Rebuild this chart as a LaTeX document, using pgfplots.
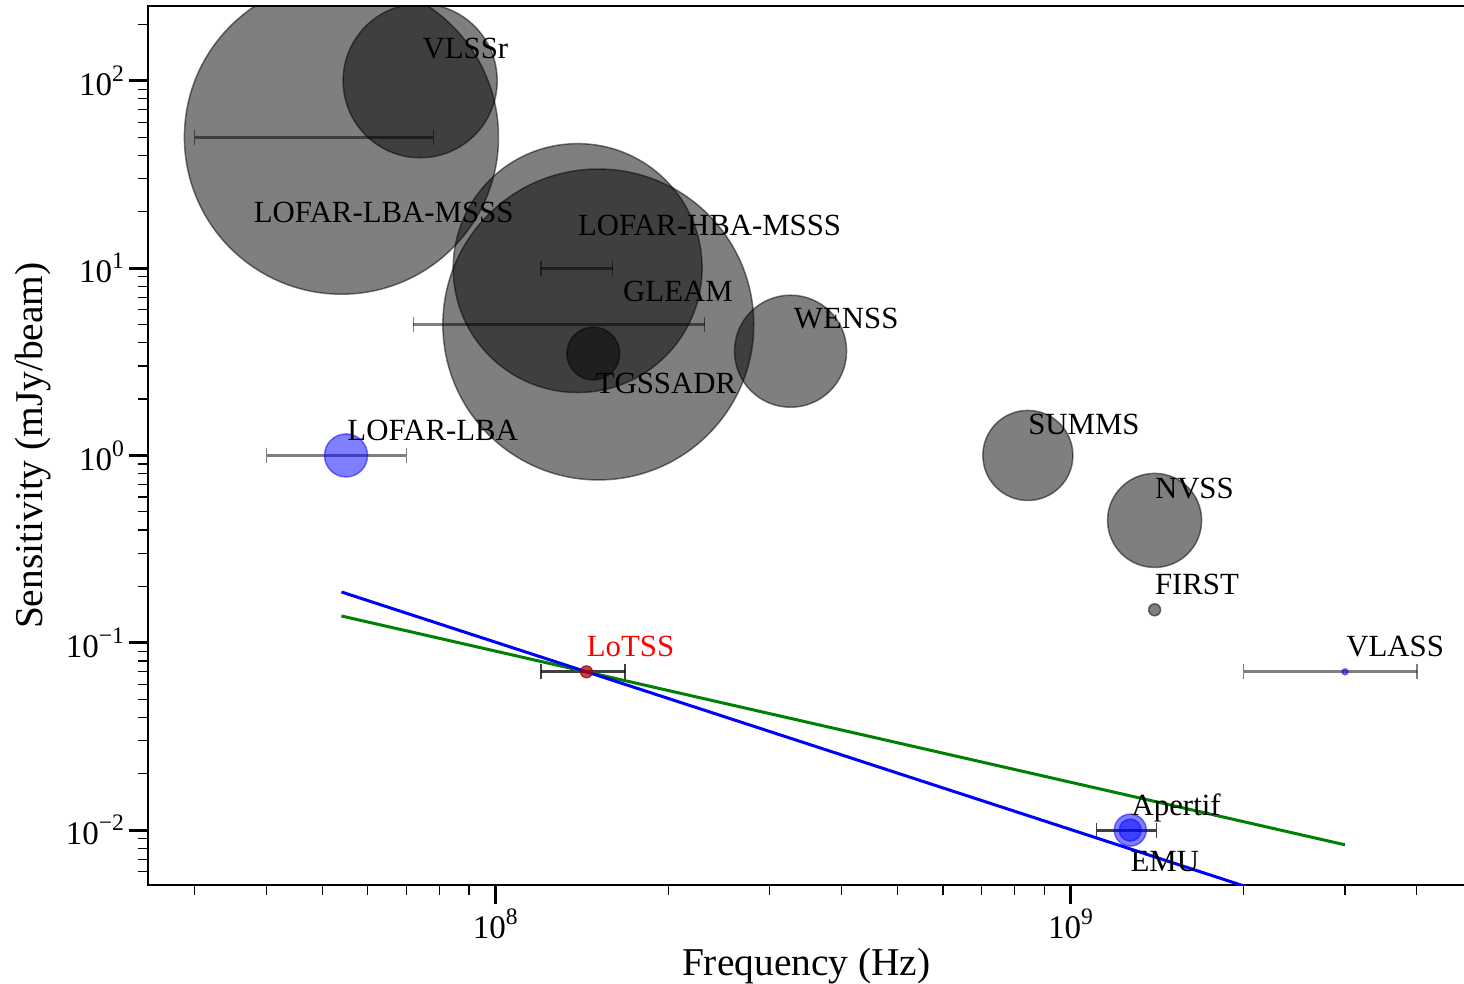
\documentclass[border=0pt]{standalone}
\usepackage{fontspec}
\setmainfont{Liberation Serif}
\usepackage{pgfplots}
\pgfplotsset{compat=1.18}

\definecolor{mplgreen}{RGB}{0,128,0}
\tikzset{lbl/.style={anchor=base west, inner sep=0pt, font=\fontsize{15.4}{17}\selectfont}}
% power-of-ten tick label with a raised exponent
\newcommand\pten[1]{10\raisebox{0.42em}{\fontsize{11.8}{12}\selectfont #1}}

\begin{document}
\begin{tikzpicture}
\begin{axis}[
  at={(0,0)}, anchor=south west,
  scale only axis, width=658pt, height=439.5pt,
  xmode=log, ymode=log,
  xmin=2.49e7, xmax=4.84e9, ymin=5.08e-3, ymax=250.6,
  axis line style={line width=0.75pt},
  tick align=outside, xtick pos=bottom, ytick pos=left,
  xtick={1e8,1e9},
  xticklabels={\pten{8},\pten{9}},
  minor xtick={3e7,4e7,5e7,6e7,7e7,8e7,9e7,2e8,3e8,4e8,5e8,6e8,7e8,8e8,9e8,2e9,3e9,4e9},
  ytick={1e-2,1e-1,1,10,100},
  yticklabels={\pten{−2},\pten{−1},\pten{0},\pten{1},\pten{2}},
  minor ytick={6e-3,7e-3,8e-3,9e-3,2e-2,3e-2,4e-2,5e-2,6e-2,7e-2,8e-2,9e-2,
               2e-1,3e-1,4e-1,5e-1,6e-1,7e-1,8e-1,9e-1,2,3,4,5,6,7,8,9,
               20,30,40,50,60,70,80,90,200},
  major tick length=9.5pt, minor tick length=5pt,
  every major tick/.append style={line width=1.5pt, black},
  every minor tick/.append style={line width=0.6pt, black},
  tick label style={font=\fontsize{16.5}{18}\selectfont},
  yticklabel style={xshift=1pt},
  xticklabel style={yshift=1pt},
  xlabel={Frequency (Hz)},
  ylabel={Sensitivity (mJy/beam)},
  label style={font=\fontsize{19.7}{22}\selectfont},
  xlabel style={at={(axis description cs:0.5,0)}, anchor=base, yshift=-45pt},
  ylabel style={at={(axis description cs:-0.0874,0.5)}, anchor=center},
  clip marker paths=true,
  bubble/.style={only marks, mark=*, mark options={fill=black, draw=black, opacity=0.5, line width=0.75pt}},
  bluebubble/.style={only marks, mark=*, mark options={fill=blue, draw=blue, opacity=0.5, line width=0.75pt}},
  bar/.style={black, opacity=0.5, line width=1.5pt, mark=|, mark size=3.75pt, mark options={line width=0.7pt}},
]

% survey sensitivities, marker size scales with beam size
\addplot[bubble, mark size=78.5pt] coordinates {(5.4e7,50)};    % LOFAR-LBA-MSSS
\addplot[bubble, mark size=38.5pt] coordinates {(7.4e7,100)};   % VLSSr
\addplot[bubble, mark size=62.2pt] coordinates {(1.39e8,10)};   % LOFAR-HBA-MSSS
\addplot[bubble, mark size=77.7pt] coordinates {(1.51e8,5)};    % GLEAM
\addplot[bubble, mark size=13.2pt] coordinates {(1.48e8,3.5)};  % TGSSADR
\addplot[bubble, mark size=28pt]   coordinates {(3.26e8,3.6)};  % WENSS
\addplot[bubble, mark size=22.5pt] coordinates {(8.43e8,1)};    % SUMMS
\addplot[bubble, mark size=23.5pt] coordinates {(1.4e9,0.45)};  % NVSS
\addplot[bubble, mark size=3pt]    coordinates {(1.4e9,0.15)};  % FIRST

% bandwidths
\addplot[bar] coordinates {(3.0e7,50) (7.8e7,50)};
\addplot[bar] coordinates {(1.2e8,10) (1.6e8,10)};
\addplot[bar] coordinates {(7.2e7,5) (2.31e8,5)};
\addplot[bar] coordinates {(4.0e7,1) (7.0e7,1)};
\addplot[bar] coordinates {(2.0e9,0.07) (4.0e9,0.07)};
\addplot[bar, opacity=0.75] coordinates {(1.2e8,0.07) (1.68e8,0.07)};
\addplot[bar, opacity=0.75] coordinates {(1.11e9,0.01) (1.41e9,0.01)};

% spectral scaling from LoTSS: alpha = -0.7 and alpha = -1
\addplot[mplgreen, line width=1.5pt] coordinates {(5.4e7,0.139) (3.0e9,0.00835)};
\addplot[blue, line width=1.5pt] coordinates {(5.4e7,0.1867) (3.0e9,0.00336)};

% upcoming surveys
\addplot[bluebubble, mark size=10.75pt] coordinates {(5.5e7,1)};   % LOFAR-LBA
\addplot[bluebubble, mark size=8pt]     coordinates {(1.27e9,0.01)}; % Apertif
\addplot[bluebubble, mark size=5.5pt]   coordinates {(1.27e9,0.01)}; % EMU
\addplot[bluebubble, mark size=1.5pt]   coordinates {(3.0e9,0.07)};  % VLASS
\addplot[only marks, mark=*, mark size=3pt, mark options={fill=red!70!black, draw=red!60!black, opacity=0.75, line width=0.6pt}]
  coordinates {(1.44e8,0.07)};                                     % LoTSS

% survey names
\node[lbl, xshift=1pt, yshift=11pt]       at (axis cs:7.4e7,100)   {VLSSr};
\node[lbl, xshift=-44pt, yshift=-42.5pt]  at (axis cs:5.4e7,50)    {LOFAR-LBA-MSSS};
\node[lbl, yshift=16.5pt]                 at (axis cs:1.39e8,10)   {LOFAR-HBA-MSSS};
\node[lbl, xshift=12.25pt, yshift=11.25pt] at (axis cs:1.51e8,5)   {GLEAM};
\node[lbl, xshift=1.5pt, yshift=11.5pt]   at (axis cs:3.26e8,3.6)  {WENSS};
\node[lbl, xshift=1pt, yshift=-20pt]      at (axis cs:1.48e8,3.5)  {TGSSADR};
\node[lbl, xshift=0.5pt, yshift=7.5pt]    at (axis cs:5.5e7,1)     {LOFAR-LBA};
\node[lbl, yshift=10.5pt]                 at (axis cs:8.43e8,1)    {SUMMS};
\node[lbl, yshift=11pt]                   at (axis cs:1.4e9,0.45)  {NVSS};
\node[lbl, yshift=7.5pt]                  at (axis cs:1.4e9,0.15)  {FIRST};
\node[lbl, xshift=0.5pt, yshift=7.5pt]    at (axis cs:3.0e9,0.07)  {VLASS};
\node[lbl, yshift=7.5pt, text=red]        at (axis cs:1.44e8,0.07) {LoTSS};
\node[lbl, xshift=0.5pt, yshift=7.5pt]    at (axis cs:1.27e9,0.01) {Apertif};
\node[lbl, yshift=-20.5pt]                at (axis cs:1.27e9,0.01) {EMU};
\end{axis}
\pgfresetboundingbox
\path (-74pt,-49pt) rectangle (657.8pt,442.5pt);
\end{tikzpicture}
\end{document}
